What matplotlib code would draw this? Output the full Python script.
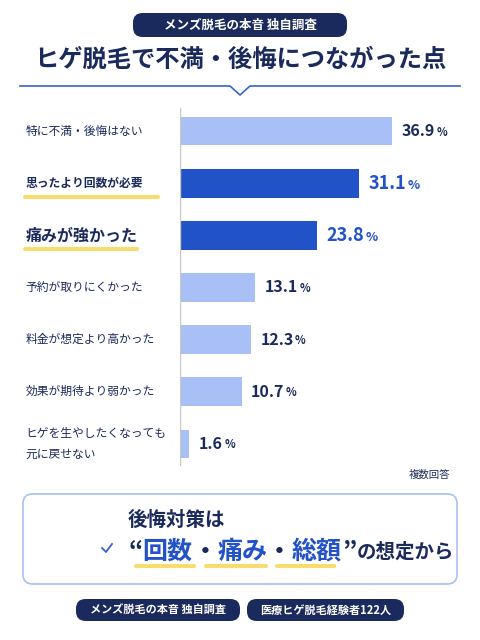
import matplotlib
matplotlib.use("Agg")
import matplotlib.pyplot as plt
from matplotlib.patches import FancyBboxPatch, Circle, Ellipse
from matplotlib.lines import Line2D

plt.rcParams['font.family'] = ['Noto Sans CJK JP', 'DejaVu Sans']

categories = ["特に不満・後悔はない", "思ったより回数が必要", "痛みが強かった", "予約が取りにくかった",
              "料金が想定より高かった", "効果が期待より弱かった", "ヒゲを生やしたくなっても\n元に戻せない"]
values = [36.9, 31.1, 23.8, 13.1, 12.3, 10.7, 1.6]
highlight = [False, True, True, False, False, False, False]

NAVY = "#1b2a5c"
BLUE = "#2152c8"
LIGHT = "#a8c0f5"
YELLOW = "#f7dc6f"

W, H = 480, 640
fig = plt.figure(figsize=(4.8, 6.4), dpi=100)
fig.patch.set_facecolor("white")

def fx(x): return x / W
def fy(y): return 1 - y / H

def pill(x0, y0, x1, y1, text, fs):
    p = FancyBboxPatch((fx(x0), fy(y1)), fx(x1 - x0), (y1 - y0) / H,
                       boxstyle="round,pad=0,rounding_size=0.02", transform=fig.transFigure,
                       facecolor=NAVY, edgecolor="none", mutation_aspect=0.75)
    fig.patches.append(p)
    fig.text(fx((x0 + x1) / 2), fy((y0 + y1) / 2), text, color="white", fontsize=fs,
             fontweight="bold", ha="center", va="center")

pill(133, 13, 347, 37, "メンズ脱毛の本音 独自調査", 9)
fig.text(0.5, fy(60), "ヒゲ脱毛で不満・後悔につながった点", color=NAVY, fontsize=17.5,
         fontweight="bold", ha="center", va="center")
fig.add_artist(Line2D([fx(20), fx(230), fx(240), fx(250), fx(460)],
                      [fy(86), fy(86), fy(95), fy(86), fy(86)], color="#3a62c8", lw=1.2,
                      transform=fig.transFigure))

ax = fig.add_axes([fx(180), fy(470), fx(290), (470 - 105) / H])
ypos = list(range(len(values)))
colors = [BLUE if h else LIGHT for h in highlight]
ax.barh(ypos, values, height=0.55, color=colors)
ax.set_ylim(6.5, -0.5)
ax.set_xlim(0, 290 / 5.75)
ax.axis("off")
ax.add_line(Line2D([0, 0], [-0.45, 6.4], color="#c8c8c8", lw=1))

for i, (c, v, h) in enumerate(zip(categories, values, highlight)):
    if i == 2:
        ax.text(-26.9, i, c, fontsize=11.5, fontweight="bold", color=NAVY, ha="left", va="center")
    else:
        ax.text(-26.9, i, c, fontsize=8.5, color=NAVY, ha="left", va="center",
                fontweight="bold" if h else "normal", linespacing=1.7)
    if h:
        ln = 23.0 if i == 1 else 19.5
        ax.add_line(Line2D([-26.9, -26.9 + ln], [i + 0.27, i + 0.27], color=YELLOW, lw=3,
                           solid_capstyle="round", clip_on=False))
    col = BLUE if h else NAVY
    fs = 13 if h else 11.5
    t = ax.annotate(f"{v}", (v, i), xytext=(7, 0), textcoords="offset points", fontsize=fs,
                    fontweight="bold", color=col, ha="left", va="center")
    ax.annotate("%", xycoords=t, xy=(1, 0.22), xytext=(1, 0), textcoords="offset points",
                fontsize=fs * 0.7, fontweight="bold", color=col, ha="left", va="baseline")

fig.text(fx(450), fy(475), "複数回答", fontsize=7.5, color=NAVY, ha="right", va="center")

box = FancyBboxPatch((fx(23), fy(584)), fx(434), (584 - 494) / H,
                     boxstyle="round,pad=0,rounding_size=0.02", transform=fig.transFigure,
                     facecolor="white", edgecolor="#a9c0f2", lw=1.2, mutation_aspect=0.75)
fig.patches.append(box)

# simple figure icon in its own axes
iax = fig.add_axes([fx(35), fy(578), fx(80), 78 / H])
iax.set_xlim(0, 80); iax.set_ylim(78, 0); iax.set_aspect("equal"); iax.axis("off")
iax.add_patch(Ellipse((42, 30), 30, 38, facecolor="white", edgecolor=NAVY, lw=1.2))
iax.add_patch(Ellipse((42, 16), 34, 16, facecolor=NAVY, edgecolor=NAVY))
iax.plot([2, 14, 32, 32], [78, 62, 56, 48], color=NAVY, lw=1.2)
iax.plot([52, 52, 70, 78], [48, 56, 62, 78], color=NAVY, lw=1.2)
iax.plot([40, 46, 52, 54], [60, 50, 44, 36], color=NAVY, lw=1.2)
iax.add_patch(Circle((107, 548), 0, visible=False))
fig.add_artist(Ellipse((fx(107), fy(548)), 18 / W, 18 / H, transform=fig.transFigure,
                       facecolor="white", edgecolor="#6a8ee0", lw=1.2))
fig.add_artist(Line2D([fx(102), fx(106), fx(112)], [fy(548), fy(552), fy(544)], color="#3a62c8",
                      lw=1.3, transform=fig.transFigure))

fig.text(fx(128), fy(520), "後悔対策は", fontsize=14, fontweight="bold", color=NAVY, va="center")
parts = [("“", NAVY, 18), ("回数", BLUE, 18), ("・", NAVY, 18), ("痛み", BLUE, 18), ("・", NAVY, 18),
         ("総額", BLUE, 18), ("”", NAVY, 18), ("の想定から", NAVY, 14)]
prev = fig.text(fx(128), fy(552), parts[0][0], fontsize=parts[0][2], fontweight="bold",
                color=parts[0][1], va="baseline")
prev.set_va("center")
texts = [prev]
for s, c, fs in parts[1:]:
    prev = fig.text(0, 0, "", fontsize=fs)
    prev = texts[-1].axes if False else None
    t = fig.add_artist(plt.Annotation(s, xy=(1, 0.5), xycoords=texts[-1], xytext=(0, 0),
                                      textcoords="offset points", fontsize=fs, fontweight="bold",
                                      color=c, ha="left", va="center"))
    texts.append(t)
for x0, x1 in [(136, 194), (206, 266), (277, 334)]:
    fig.add_artist(Line2D([fx(x0), fx(x1)], [fy(566), fy(566)], color=YELLOW, lw=3,
                          solid_capstyle="round", transform=fig.transFigure))

pill(76, 599, 240, 621, "メンズ脱毛の本音 独自調査", 8)
pill(247, 599, 404, 621, "医療ヒゲ脱毛経験者122人", 8)

fig.savefig("out.png", dpi=100)
